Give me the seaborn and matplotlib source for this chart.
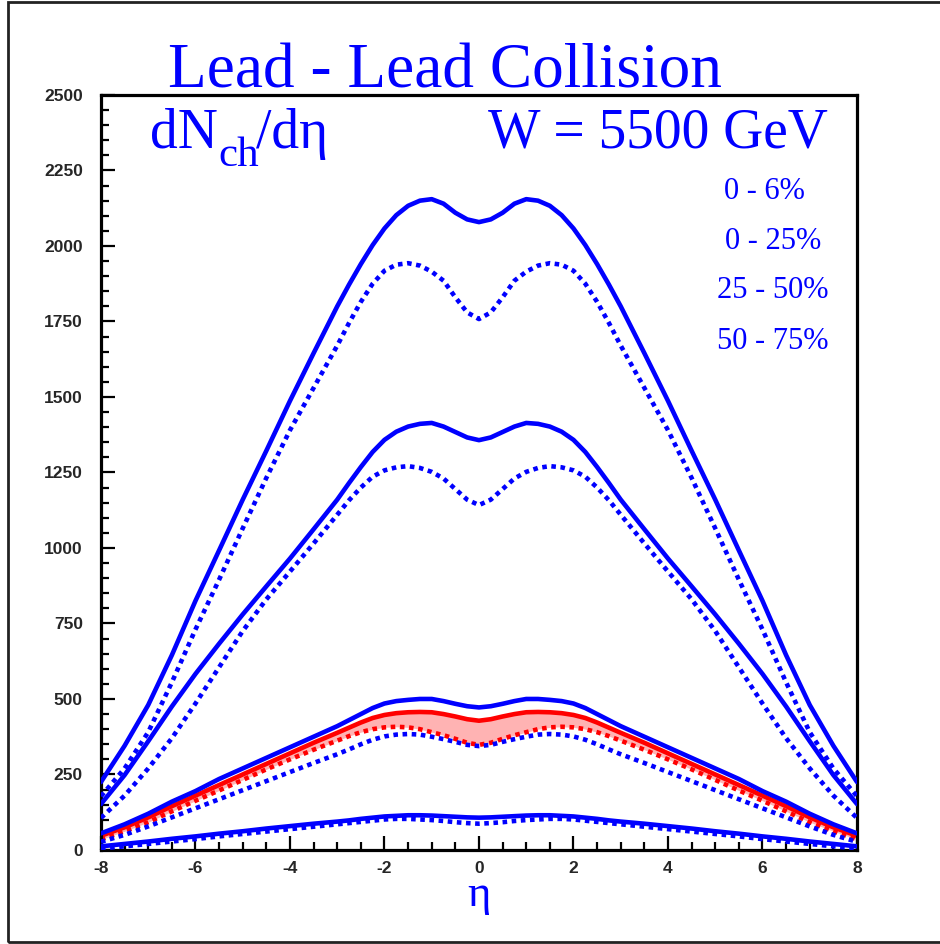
import seaborn as sns
import matplotlib.pyplot as plt
from matplotlib.patches import Rectangle
from matplotlib.ticker import MultipleLocator

# pseudorapidity grid
eta = [-8, -7.5, -7, -6.5, -6, -5.5, -5, -4.5, -4, -3.5, -3, -2.75, -2.5, -2.25, -2, -1.75,
       -1.5, -1.25, -1, -0.75, -0.5, -0.25, 0, 0.25, 0.5, 0.75, 1, 1.25, 1.5, 1.75, 2,
       2.25, 2.5, 2.75, 3, 3.5, 4, 4.5, 5, 5.5, 6, 6.5, 7, 7.5, 8]

# 0 - 6 %
c06_solid = [225, 345, 480, 645, 825, 992, 1160, 1322, 1487, 1645, 1800, 1872, 1940, 2003, 2058, 2102,
             2133, 2150, 2155, 2140, 2110, 2088, 2079, 2088, 2110, 2140, 2155, 2150, 2133, 2102, 2058,
             2003, 1940, 1872, 1800, 1645, 1487, 1322, 1160, 992, 825, 645, 480, 345, 225]
c06_dot = [178, 270, 390, 555, 730, 895, 1065, 1232, 1390, 1530, 1670, 1745, 1815, 1875, 1918, 1938,
           1943, 1935, 1915, 1885, 1830, 1780, 1758, 1780, 1830, 1885, 1915, 1935, 1943, 1938, 1918,
           1875, 1815, 1745, 1670, 1530, 1390, 1232, 1065, 895, 730, 555, 390, 270, 178]
# 0 - 25 %
c025_solid = [152, 248, 360, 475, 583, 683, 780, 873, 965, 1062, 1160, 1215, 1268, 1318, 1358, 1385,
              1402, 1411, 1414, 1402, 1384, 1366, 1357, 1366, 1384, 1402, 1414, 1411, 1402, 1385, 1358,
              1318, 1268, 1215, 1160, 1062, 965, 873, 780, 683, 583, 475, 360, 248, 152]
c025_dot = [106, 180, 270, 370, 485, 605, 725, 830, 922, 1015, 1110, 1158, 1200, 1236, 1257, 1267,
            1271, 1265, 1252, 1230, 1195, 1160, 1142, 1160, 1195, 1230, 1252, 1265, 1271, 1267, 1257,
            1236, 1200, 1158, 1110, 1015, 922, 830, 725, 605, 485, 370, 270, 180, 106]
# 25 - 50 %
c2550_solid = [55, 85, 120, 160, 195, 235, 270, 305, 340, 375, 410, 430, 450, 470, 485, 493,
               497, 500, 500, 493, 484, 476, 472, 476, 484, 493, 500, 500, 497, 493, 485,
               470, 450, 430, 410, 375, 340, 305, 270, 235, 195, 160, 120, 85, 55]
c2550_dot = [27, 50, 78, 108, 138, 168, 198, 228, 258, 288, 317, 333, 350, 365, 376, 382,
             384, 382, 375, 367, 358, 348, 344, 348, 358, 367, 375, 382, 384, 382, 376,
             365, 350, 333, 317, 288, 258, 228, 198, 168, 138, 108, 78, 50, 27]
red_solid = [47, 75, 108, 145, 180, 215, 250, 285, 320, 355, 388, 405, 422, 437, 447, 453,
             456, 457, 456, 450, 442, 433, 428, 433, 442, 450, 456, 457, 456, 453, 447,
             437, 422, 405, 388, 355, 320, 285, 250, 215, 180, 145, 108, 75, 47]
red_dot = [35, 62, 92, 128, 163, 197, 232, 267, 300, 332, 362, 377, 390, 400, 406, 408,
           406, 400, 390, 380, 368, 355, 348, 355, 368, 380, 390, 400, 406, 408, 406,
           400, 390, 377, 362, 332, 300, 267, 232, 197, 163, 128, 92, 62, 35]
# 50 - 75 %
c5075_solid = [12, 20, 28, 37, 45, 54, 62, 71, 79, 87, 94, 98, 103, 107, 111, 113,
               115, 115, 114, 112, 110, 108, 107, 108, 110, 112, 114, 115, 115, 113, 111,
               107, 103, 98, 94, 87, 79, 71, 62, 54, 45, 37, 28, 20, 12]
c5075_dot = [5, 12, 20, 28, 36, 45, 53, 61, 69, 77, 85, 89, 93, 97, 101, 103,
             103, 101, 99, 96, 92, 89, 87, 89, 92, 96, 99, 101, 103, 103, 101,
             97, 93, 89, 85, 77, 69, 61, 53, 45, 36, 28, 20, 12, 5]

centralities = ['0 - 6%', '0 - 25%', '25 - 50%', '50 - 75%']

sns.set_style('white')
plt.rcParams['font.family'] = ['Liberation Serif', 'DejaVu Serif']
plt.rcParams['axes.unicode_minus'] = False

BLUE = '#0000ff'
RED = '#ff0000'
dotted = (0, (1, 1))
LW = 3.3

fig = plt.figure(figsize=(9.4, 9.44), dpi=100)
ax = fig.add_axes([0.1074, 0.0996, 0.8043, 0.7998])

ax.fill_between(eta, red_dot, red_solid, color='#ffb3b3', lw=0, zorder=1)

for ys in [c06_solid, c025_solid, c2550_solid, c5075_solid]:
    sns.lineplot(x=eta, y=ys, ax=ax, color=BLUE, lw=LW, zorder=3,
                 solid_joinstyle='round')
for ys in [c06_dot, c025_dot, c2550_dot, c5075_dot]:
    sns.lineplot(x=eta, y=ys, ax=ax, color=BLUE, lw=LW, linestyle=dotted, zorder=3)
sns.lineplot(x=eta, y=red_solid, ax=ax, color=RED, lw=LW, zorder=2, solid_joinstyle='round')
sns.lineplot(x=eta, y=red_dot, ax=ax, color=RED, lw=LW, linestyle=dotted, zorder=2)

ax.set_xlim(-8, 8)
ax.set_ylim(0, 2500)
ax.xaxis.set_major_locator(MultipleLocator(2))
ax.xaxis.set_minor_locator(MultipleLocator(0.5))
ax.yaxis.set_major_locator(MultipleLocator(250))
ax.yaxis.set_minor_locator(MultipleLocator(50))
ax.tick_params(which='both', direction='in', top=False, right=False, left=True, bottom=True,
               width=1.6, color='black')
ax.tick_params(which='major', length=10)
ax.tick_params(which='minor', length=5.5)
ax.tick_params(axis='y', which='major', pad=13)
ax.tick_params(axis='x', which='major', pad=8)
for lab in ax.get_xticklabels() + ax.get_yticklabels():
    lab.set_family('Liberation Sans')
    lab.set_weight('bold')
    lab.set_fontsize(12.5)
for sp in ax.spines.values():
    sp.set_linewidth(2.3)
    sp.set_color('black')
ax.set_xlabel('')
ax.set_ylabel('')

# texts (figure pixel coords -> fraction)
W, H = 940.0, 944.0
fig.text(445 / W, 1 - 88 / H, 'Lead - Lead Collision', color=BLUE, fontsize=45.5,
         ha='center', va='baseline')
fig.text(150 / W, 1 - 148 / H, 'dN', color=BLUE, fontsize=40, ha='left', va='baseline')
fig.text(218 / W, 1 - 166 / H, 'ch', color=BLUE, fontsize=31, ha='left', va='baseline')
fig.text(256 / W, 1 - 148 / H, '/dη', color=BLUE, fontsize=40, ha='left', va='baseline')
fig.text(828 / W, 1 - 148 / H, 'W = 5500 GeV', color=BLUE, fontsize=40,
         ha='right', va='baseline')
leg_x = [764, 773, 773, 773]
leg_y = [199, 249, 298, 349]
for lab, lx, ly in zip(centralities, leg_x, leg_y):
    fig.text(lx / W, 1 - ly / H, lab, color=BLUE, fontsize=22, ha='center', va='baseline')
fig.text(479 / W, 1 - 906 / H, 'η', color=BLUE, fontsize=32, ha='center', va='baseline')

# outer frame
fig.add_artist(Rectangle((8 / W, 2 / H), 1.0, 940 / H, transform=fig.transFigure,
                         fill=False, lw=2, ec='#222222'))

fig.savefig('out.png', dpi=100)
